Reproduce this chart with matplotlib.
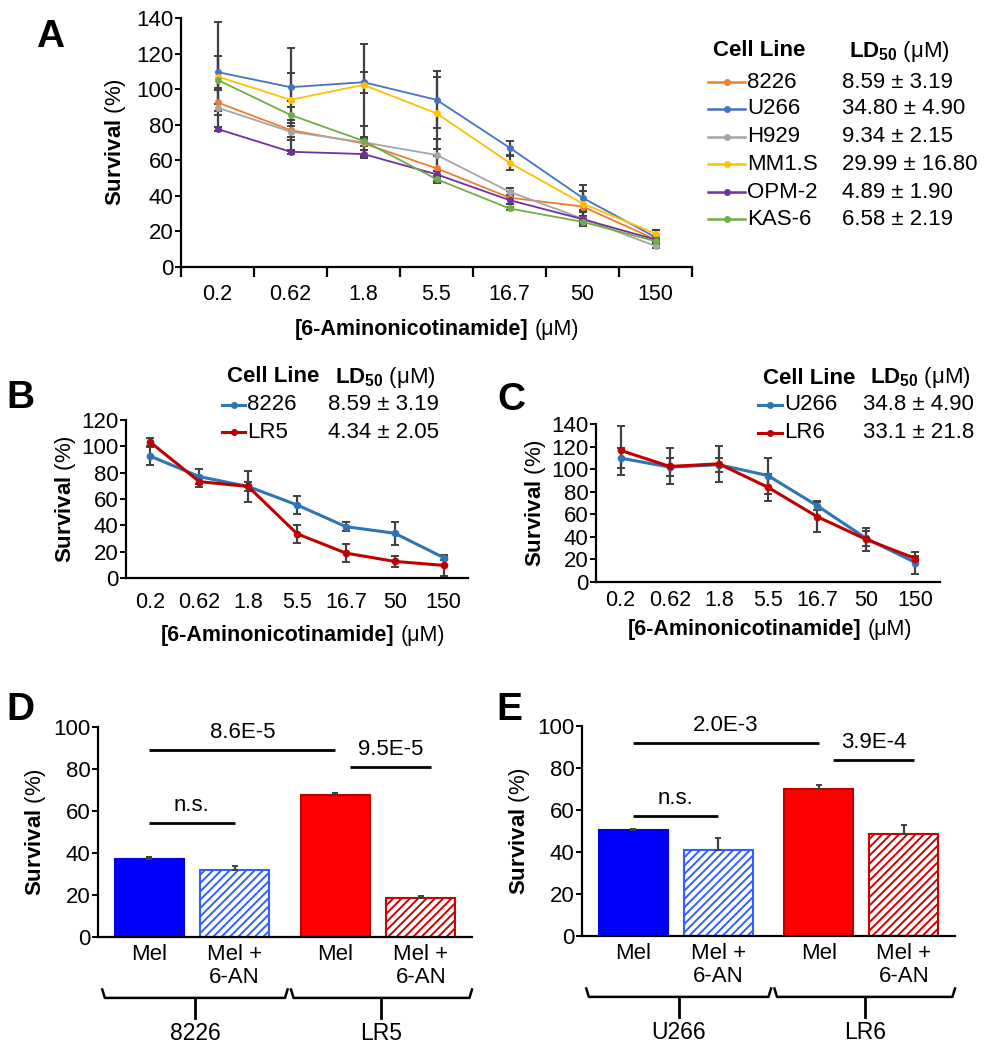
"""
Survival curves and bar charts for 6-aminonicotinamide treatment (panels A-E)
"""

import matplotlib
matplotlib.use("Agg")
import matplotlib.pyplot as plt
from matplotlib.lines import Line2D
from matplotlib.offsetbox import TextArea, HPacker, AnnotationBbox

plt.rcParams["font.family"] = ["Liberation Sans", "DejaVu Sans"]
plt.rcParams["mathtext.fontset"] = "custom"
plt.rcParams["mathtext.rm"] = "Liberation Sans"
plt.rcParams["mathtext.bf"] = "Liberation Sans:bold"
plt.rcParams["hatch.linewidth"] = 1.4

# ---- data ----
doses = ["0.2", "0.62", "1.8", "5.5", "16.7", "50", "150"]

# panel A
lines_a = ["8226", "U266", "H929", "MM1.S", "OPM-2", "KAS-6"]
ld50_a = ["8.59 ± 3.19", "34.80 ± 4.90", "9.34 ± 2.15",
          "29.99 ± 16.80", "4.89 ± 1.90", "6.58 ± 2.19"]
surv_8226 = [92.5, 77.0, 69.5, 55.5, 39.0, 34.0, 15.5]
surv_u266 = [109.6, 101.1, 103.9, 94.0, 67.1, 38.9, 16.8]
surv_h929 = [89.6, 76.1, 70.1, 63.0, 42.3, 27.2, 11.8]
surv_mm1s = [107.1, 94.0, 102.4, 86.4, 58.6, 35.7, 18.8]
surv_opm2 = [77.6, 64.8, 63.5, 52.1, 37.6, 26.9, 15.4]
surv_kas6 = [105.2, 85.5, 70.9, 49.4, 32.9, 25.4, 14.5]
err_8226 = [7.0, 5.6, 3.5, 7.0, 3.6, 8.8, 1.5]
err_u266 = [9.0, 8.0, 6.0, 16.0, 3.9, 7.0, 4.0]
err_h929 = [2.0, 3.0, 2.0, 9.0, 2.0, 4.0, 1.0]
err_mm1s = [30.6, 29.0, 23.0, 20.3, 4.0, 7.0, 2.0]
err_opm2 = [1.0, 1.0, 2.3, 2.0, 2.0, 2.0, 1.0]
err_kas6 = [13.4, 4.3, 8.4, 2.0, 1.0, 1.0, 1.0]

# panel B
lines_b = ["8226", "LR5"]
ld50_b = ["8.59 ± 3.19", "4.34 ± 2.05"]
surv_lr5 = [103.0, 73.2, 69.5, 33.6, 18.9, 12.6, 9.6]
err_lr5 = [3.0, 4.0, 12.0, 7.0, 7.0, 4.0, 8.0]

# panel C
lines_c = ["U266", "LR6"]
ld50_c = ["34.8 ± 4.90", "33.1 ± 21.8"]
surv_u266_c = [109.8, 101.8, 103.9, 94.3, 67.6, 38.6, 17.2]
err_u266_c = [9.0, 8.0, 6.0, 16.0, 3.6, 7.0, 9.8]
surv_lr6 = [116.6, 102.4, 104.7, 83.9, 57.9, 37.7, 20.8]
err_lr6 = [21.9, 16.0, 16.0, 12.0, 14.0, 10.0, 2.0]

# panels D, E
bar_labels = ["Mel", "Mel +\n6-AN", "Mel", "Mel +\n6-AN"]
surv_d = [37.3, 31.7, 67.8, 18.6]
err_d = [1.0, 2.0, 1.0, 1.0]
groups_d = ["8226", "LR5"]
pvals_d = ["8.6E-5", "9.5E-5", "n.s."]
surv_e = [50.5, 41.0, 69.8, 48.6]
err_e = [0.5, 5.5, 2.2, 4.3]
groups_e = ["U266", "LR6"]
pvals_e = ["2.0E-3", "3.9E-4", "n.s."]

W, H = 989, 1050
fig = plt.figure(figsize=(W / 100, H / 100), dpi=100)

FS_TICK = 16
FS_TXT = 16


def fpos(x, y):
    """pixel (top-left origin) -> figure fraction"""
    return x / W, 1 - y / H


def make_ax(left, top, right, bottom):
    ax = fig.add_axes([left / W, 1 - bottom / H, (right - left) / W, (bottom - top) / H])
    for s in ["top", "right"]:
        ax.spines[s].set_visible(False)
    for s in ["left", "bottom"]:
        ax.spines[s].set_linewidth(1.6)
    ax.tick_params(axis="y", labelsize=FS_TICK, length=4, width=1.4, pad=1.5)
    return ax


def two_part(bold, normal, x, y, fs):
    box = HPacker(children=[TextArea(bold, textprops=dict(fontsize=fs, fontweight="bold")),
                            TextArea(normal, textprops=dict(fontsize=fs))],
                  align="baseline", pad=0, sep=5)
    ab = AnnotationBbox(box, fpos(x, y), xycoords="figure fraction", frameon=False,
                        box_alignment=(0.5, 0.5), pad=0)
    fig.add_artist(ab)


def legend_block(x_line, x_val, y_head, y_rows, names, values, colors, lw, ms, line_len, fs):
    fig.text(*fpos(x_line + 5, y_head), "Cell Line", fontsize=fs, fontweight="bold",
             va="center", ha="left")
    fig.text(*fpos(x_val + 7, y_head), r"$\mathbf{LD_{50}}$ (μM)", fontsize=fs,
             va="center", ha="left")
    for yr, nm, val, c in zip(y_rows, names, values, colors):
        x0, y0 = fpos(x_line, yr)
        x1, _ = fpos(x_line + line_len, yr)
        fig.add_artist(Line2D([x0, x1], [y0, y0], color=c, lw=lw, transform=fig.transFigure))
        fig.add_artist(Line2D([(x0 + x1) / 2], [y0], color=c, marker="o", ms=ms,
                              transform=fig.transFigure))
        fig.text(*fpos(x_line + line_len + 2, yr), nm, fontsize=fs, va="center", ha="left")
        fig.text(*fpos(x_val, yr), val, fontsize=fs, va="center", ha="left")


def line_panel(ax, series, errs, colors, lw, ms, ymax):
    xs = range(len(doses))
    for s, e, c in zip(series, errs, colors):
        ax.errorbar(xs, s, yerr=e, fmt="none", ecolor="#404040", elinewidth=1.6,
                    capsize=3, capthick=1.4, zorder=2)
        ax.plot(xs, s, color=c, lw=lw, marker="o", ms=ms, zorder=3)
    ax.set_xlim(-0.5, len(doses) - 0.5)
    ax.set_ylim(0, ymax)
    ax.set_yticks(range(0, ymax + 1, 20))
    ax.set_xticks(list(xs))
    ax.set_xticklabels(doses, fontsize=15.5)


def bar_panel(ax, vals, errs, groups, pvals, sig_y):
    pos = [0, 1, 2.18, 3.18]
    face = ["#0000FF", "white", "#FF0000", "white"]
    edge = ["#0000E0", "#3060FF", "#C00000", "#D00000"]
    hatch = [None, "////", None, "////"]
    for p, v, fc, ec, h in zip(pos, vals, face, edge, hatch):
        ax.bar(p, v, width=0.81, color=fc, edgecolor=ec, hatch=h, linewidth=1.5, zorder=2)
    ax.errorbar(pos, vals, yerr=[[0] * 4, errs], fmt="none", ecolor="#404040",
                elinewidth=1.6, capsize=2.5, capthick=1.4, zorder=3)
    ax.set_xlim(-0.6, 3.78)
    ax.set_ylim(0, 100)
    ax.set_yticks(range(0, 101, 20))
    ax.set_xticks(pos)
    ax.set_xticklabels(bar_labels, fontsize=FS_TXT, linespacing=1.1)
    ax.tick_params(axis="x", length=0, pad=5)
    # significance bars
    spans = [(0, 2.18), (2.35, 3.3), (0, 1.0)]
    for (a, b), lbl, yv in zip(spans, pvals, sig_y):
        ax.plot([a, b], [yv, yv], color="black", lw=2, solid_capstyle="butt", clip_on=False)
        ax.text((a + b) / 2, yv + 3.5, lbl, ha="center", va="bottom", fontsize=FS_TXT)
    # group braces
    tr = ax.get_xaxis_transform()
    yb, yh, yt = -0.29, -0.25, -0.385
    for (a, b), g in zip([(-0.55, 1.62), (1.66, 3.78)], groups):
        mid = (a + b) / 2
        ax.plot([a, a + 0.03, b - 0.03, b], [yh, yb, yb, yh], color="black", lw=1.8,
                transform=tr, clip_on=False)
        ax.plot([mid, mid], [yb, yt], color="black", lw=2, transform=tr, clip_on=False)
        ax.text(mid, yt - 0.02, g, ha="center", va="top", fontsize=16.5, transform=tr)


colors_a = ["#ED7D31", "#4472C4", "#A5A5A5", "#FFC000", "#7030A0", "#70AD47"]
blue_bc = "#2E75B6"
red_bc = "#C00000"

# ---- panel A ----
ax_a = make_ax(181, 18, 692, 267)
line_panel(ax_a, [surv_8226, surv_u266, surv_h929, surv_mm1s, surv_opm2, surv_kas6],
           [err_8226, err_u266, err_h929, err_mm1s, err_opm2, err_kas6],
           colors_a, 1.3, 4, 140)
ax_a.set_xticks([i + 0.5 for i in range(-1, 7)], minor=True)
ax_a.tick_params(axis="x", which="major", length=0, pad=12)
ax_a.tick_params(axis="x", which="minor", length=7, width=1.6, direction="out")
ax_a.set_ylabel(r"$\mathbf{Survival}$ (%)", fontsize=FS_TXT, labelpad=6)
two_part("[6-Aminonicotinamide]", "(μM)", 437, 330, 15.5)
legend_block(708, 842, 51, [82, 109, 137, 164, 192, 219], lines_a, ld50_a,
             colors_a, 1.8, 4, 37, FS_TXT)
fig.text(*fpos(36, 37), "A", fontsize=28, fontweight="bold", ha="left", va="center")

# ---- panel B ----
ax_b = make_ax(126, 420, 468, 578)
line_panel(ax_b, [surv_8226, surv_lr5], [err_8226, err_lr5], [blue_bc, red_bc], 2.2, 4.5, 120)
ax_b.tick_params(axis="x", length=0, pad=10)
ax_b.set_ylabel(r"$\mathbf{Survival}$ (%)", fontsize=FS_TXT, labelpad=2)
two_part("[6-Aminonicotinamide]", "(μM)", 303, 635, 15.5)
legend_block(222, 328, 377, [405, 432], lines_b, ld50_b, [blue_bc, red_bc], 2.2, 4, 23, FS_TXT)
fig.text(*fpos(6, 398), "B", fontsize=28, fontweight="bold", ha="left", va="center")

# ---- panel C ----
ax_c = make_ax(596, 424, 940, 582)
line_panel(ax_c, [surv_u266_c, surv_lr6], [err_u266_c, err_lr6], [blue_bc, red_bc], 2.2, 4.5, 140)
ax_c.tick_params(axis="x", length=0, pad=6)
ax_c.set_ylabel(r"$\mathbf{Survival}$ (%)", fontsize=FS_TXT, labelpad=2)
two_part("[6-Aminonicotinamide]", "(μM)", 770, 630, 15.5)
legend_block(758, 863, 378, [405, 433], lines_c, ld50_c, [blue_bc, red_bc], 2.2, 4, 24, FS_TXT)
fig.text(*fpos(497, 400), "C", fontsize=28, fontweight="bold", ha="left", va="center")

# ---- panel D ----
ax_d = make_ax(98, 727, 472, 937)
bar_panel(ax_d, surv_d, err_d, groups_d, pvals_d, [88.9, 81.0, 54.3])
ax_d.set_ylabel(r"$\mathbf{Survival}$ (%)", fontsize=FS_TXT, labelpad=4)
fig.text(*fpos(6, 710), "D", fontsize=28, fontweight="bold", ha="left", va="center")

# ---- panel E ----
ax_e = make_ax(582, 726, 955, 936)
bar_panel(ax_e, surv_e, err_e, groups_e, pvals_e, [91.7, 83.8, 57.1])
ax_e.set_ylabel(r"$\mathbf{Survival}$ (%)", fontsize=FS_TXT, labelpad=4)
fig.text(*fpos(496, 710), "E", fontsize=28, fontweight="bold", ha="left", va="center")

fig.savefig("out.png", dpi=100)
plt.close(fig)
